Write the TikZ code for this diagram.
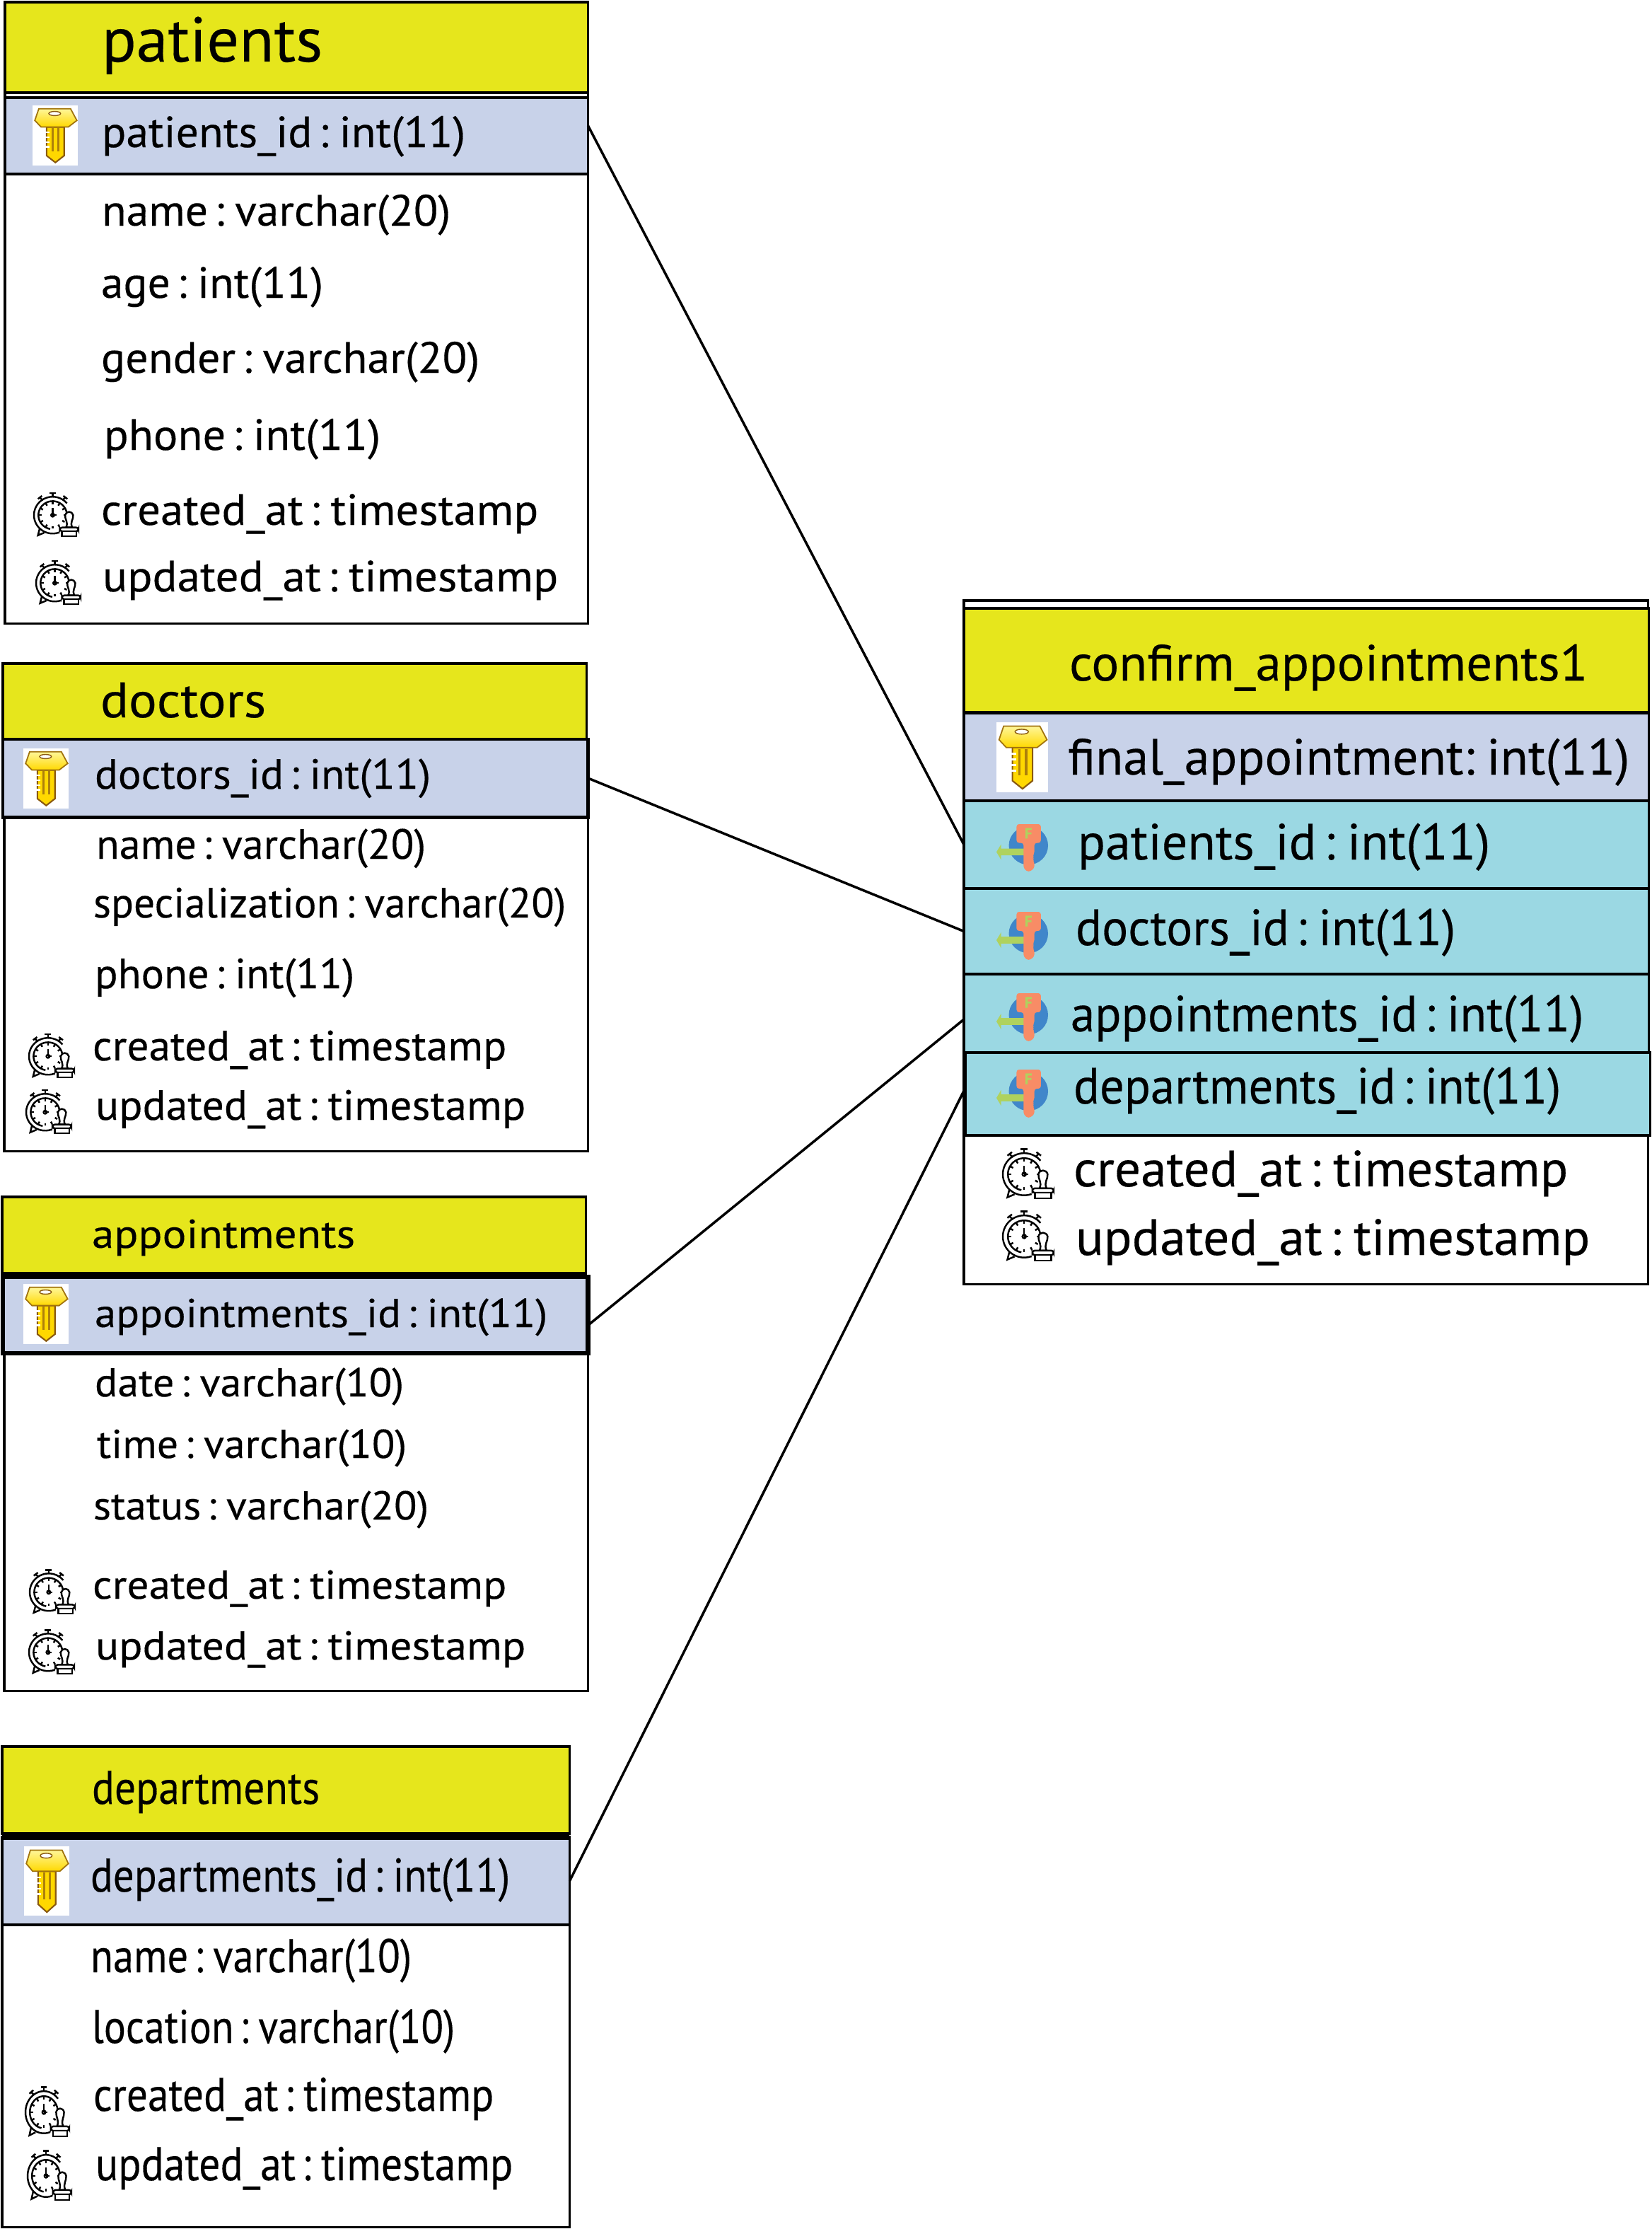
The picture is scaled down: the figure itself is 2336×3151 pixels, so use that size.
\documentclass[tikz,border=0pt]{standalone}
\usepackage{fontspec}
\usepackage{graphicx}
\usepackage{xcolor}
\usepackage{tikz}
\usetikzlibrary{positioning,shapes}
\setmainfont[WordSpace=0.55, FakeBold=0.25]{PT Sans}

\definecolor{headyellow}{HTML}{E6E61C}
\definecolor{pkblue}{HTML}{C8D2E9}
\definecolor{fkcyan}{HTML}{9BD8E3}
\definecolor{keygold}{HTML}{FFD800}
\definecolor{keylight}{HTML}{FFF79A}
\definecolor{keybrown}{HTML}{8A5A10}
\definecolor{fkorange}{HTML}{F88C66}
\definecolor{fkball}{HTML}{4086CA}
\definecolor{fkgreen}{HTML}{AFD25E}

% squeeze a label to the width (in picture units) it has in the drawing
\newlength{\fitlen}
\newcommand{\fitrow}[2]{%
    \settowidth{\fitlen}{#2}%
    \pgfmathsetmacro{\fitratio}{(#1+6)*0.284528/\fitlen}%
    \scalebox{\fitratio}[1]{#2}%
}

% primary key icon: x, y, width, height
\newcommand{\keyicon}[4]{%
\begin{scope}[shift={(#1,#2)}, x=#3*0.01cm, y=-#4*0.01cm]
    \fill[white] (0,0) rectangle (1,1);
    \draw[keybrown, line width=.6pt, fill=keygold]
        (.31,.36) -- (.31,.835) -- (.505,.95) -- (.70,.835) -- (.70,.36) -- cycle;
    \fill[keybrown!70!keygold] (.42,.38) rectangle (.60,.76);
    \fill[keygold] (.47,.38) rectangle (.55,.80);
    \draw[keybrown!80!keygold, line width=.5pt, top color=keylight, bottom color=keygold]
        (.14,.055) -- (.84,.055) -- (.98,.25) -- (.79,.36) -- (.19,.36) -- (.05,.25) -- cycle;
    \draw[keybrown, line width=.4pt, fill=white] (.49,.135) ellipse [x radius=.13, y radius=.035];
    \foreach \j in {.45,.53,.61,.69} {
        \draw[white, line width=.7pt] (.28,\j) -- (.38,\j);
    }
\end{scope}
}

% foreign key icon: name, x, y, width, height
\newcommand{\fkicon}[5]{%
\begin{scope}[shift={(#2,#3)}, x=#4*0.01cm, y=-#5*0.01cm]
    \fill[fkball] (.62,.445) ellipse [x radius=.38, y radius=.40];
    \fill[fkgreen] (.55,.51) -- (.09,.51) -- (.09,.42) -- (0,.58) -- (.09,.74) -- (.09,.65) -- (.55,.65) -- cycle;
    \fill[fkorange, rounded corners=1pt] (.39,0) -- (.86,0) -- (.86,.39) -- (.735,.39) -- (.735,.62)
        -- (.69,.66) -- (.735,.70) -- (.69,.74) -- (.735,.78) -- (.735,.92) -- (.62,1) -- (.525,.92) -- (.525,.39) -- (.39,.39) -- cycle;
    \node (#1) [text=fkgreen, inner sep=0pt, font=\bfseries\fontsize{6}{6}\selectfont] at (.62,.19) {F};
\end{scope}
}

% clock with stamp icon: x, y, width, height
\newcommand{\clockicon}[4]{%
\begin{scope}[shift={(#1,#2)}, x=#3*0.01cm, y=-#4*0.01cm, line width=.7pt]
    \draw plot[domain=-40:-290, samples=30] ({.42+.42*cos(\x)}, {.52+.42*sin(\x)});
    \draw plot[domain=-10:-260, samples=30] ({.42+.32*cos(\x)}, {.52+.32*sin(\x)});
    \foreach \i in {0,30,...,330} {
        \draw ({.42+.25*cos(\i)}, {.52+.25*sin(\i)}) -- ({.42+.31*cos(\i)}, {.52+.31*sin(\i)});
    }
    \draw (.42,.52) -- (.42,.35) (.42,.52) -- (.50,.52);
    \draw (.42,.52) circle [radius=.035];
    \draw (.42,.02) -- (.42,.10) (.35,.02) -- (.49,.02);
    \draw (.13,.12) -- (.20,.18) (.09,.15) -- (.18,.08);
    \draw (.70,.12) -- (.64,.18) (.75,.15) -- (.66,.08);
    \draw (.13,.82) -- (.09,.98) -- (.23,.92);
    \draw[fill=white] (.72,.80) .. controls (.78,.68) and (.69,.62) .. (.70,.52)
        .. controls (.72,.42) and (.86,.42) .. (.88,.52) .. controls (.89,.62) and (.80,.68) .. (.86,.80) -- cycle;
    \draw[fill=white, rounded corners=1pt] (.58,.80) rectangle (1,.89);
    \draw[fill=white] (.63,.89) rectangle (.95,1);
\end{scope}
}

\tikzset{
    tablebody/.style={draw, fill=white, line width=1pt, anchor=north west, inner sep=0pt, outer sep=0pt},
    headrow/.style={tablebody, fill=headyellow},
    pkrow/.style={tablebody, fill=pkblue},
    fkrow/.style={tablebody, fill=fkcyan},
    field/.style={anchor=base west, inner sep=0pt, outer sep=0pt, xshift=-0.03cm},
    relation/.style={draw, line width=1pt}
}

\begin{document}
\begin{tikzpicture}[x=0.01cm, y=-0.01cm]
\useasboundingbox (0,0) rectangle (2336,3151);

% TABLE: patients
\node (patientsbody) [tablebody, minimum width=8.24cm, minimum height=8.78cm] at (7,3) {};
\node (patientshead) [headrow, minimum width=8.24cm, minimum height=1.28cm] at (7,3) {};
\node (patientsid) [pkrow, minimum width=8.24cm, minimum height=1.08cm] at (7,138) {};
\keyicon{46}{149}{64}{85}
\foreach \xx/\yy in {48/696, 51/792} {
    \clockicon{\xx}{\yy}{63}{62}
}
\begin{scope}[font=\fontsize{17.6}{20}\selectfont]
    \node (patientstitle) [field, font=\fontsize{25.5}{28}\selectfont] at (147,87) {\fitrow{306}{patients}};
    \foreach \nm/\xx/\yy/\len/\txt in {
        key/147/208/508/patients\_id : int(11),
        name/147/319/487/name : varchar(20),
        age/146/421/308/age : int(11),
        gender/146/527/529/gender : varchar(20),
        phone/150/636/385/phone : int(11),
        created/146/742/612/created\_at : timestamp,
        updated/148/836/638/updated\_at : timestamp} {
        \node (patients\nm) [field] at (\xx,\yy) {\fitrow{\len}{\txt}};
    }
\end{scope}

% TABLE: doctors
\node (doctorsbody) [tablebody, minimum width=8.25cm, minimum height=5.82cm] at (6,1045) {};
\node (doctorshead) [headrow, minimum width=8.25cm, minimum height=1.07cm] at (4,938) {};
\node (doctorsid) [pkrow, line width=1.4pt, minimum width=8.27cm, minimum height=1.10cm] at (4,1045) {};
\keyicon{33}{1058}{64}{85}
\foreach \xx/\yy in {41/1461, 37/1540} {
    \clockicon{\xx}{\yy}{64}{62}
}
\begin{scope}[font=\fontsize{17}{20}\selectfont]
    \node (doctorstitle) [field, font=\fontsize{20}{22}\selectfont] at (145,1014) {\fitrow{228}{doctors}};
    \foreach \nm/\xx/\yy/\len/\txt in {
        key/137/1115/469/doctors\_id : int(11),
        name/139/1214/460/name : varchar(20),
        spec/135/1297/662/specialization : varchar(20),
        phone/137/1397/361/phone : int(11),
        created/134/1499/579/created\_at : timestamp,
        updated/138/1583/602/updated\_at : timestamp} {
        \node (doctors\nm) [field] at (\xx,\yy) {\fitrow{\len}{\txt}};
    }
\end{scope}

% TABLE: appointments
\node (appointmentsbody) [tablebody, minimum width=8.25cm, minimum height=5.85cm] at (6,1805) {};
\node (appointmentshead) [headrow, minimum width=8.25cm, minimum height=1.08cm] at (3,1692) {};
\node (appointmentsid) [pkrow, line width=1.8pt, minimum width=8.27cm, minimum height=1.08cm] at (4,1805) {};
\keyicon{33}{1815}{64}{85}
\foreach \xx/\yy in {42/2218, 41/2303} {
    \clockicon{\xx}{\yy}{64}{63}
}
\begin{scope}[font=\fontsize{16.2}{20}\selectfont]
    \node (appointmentstitle) [field] at (133,1764) {\fitrow{366}{appointments}};
    \foreach \nm/\xx/\yy/\len/\txt in {
        key/137/1876/634/appointments\_id : int(11),
        date/137/1974/431/date : varchar(10),
        time/140/2061/432/time : varchar(10),
        status/135/2148/468/status : varchar(20),
        created/134/2260/579/created\_at : timestamp,
        updated/138/2346/602/updated\_at : timestamp} {
        \node (appointments\nm) [field] at (\xx,\yy) {\fitrow{\len}{\txt}};
    }
\end{scope}

% TABLE: departments
\node (departmentsbody) [tablebody, minimum width=8.02cm, minimum height=5.50cm] at (3,2598) {};
\node (departmentshead) [headrow, minimum width=8.02cm, minimum height=1.23cm] at (3,2469) {};
\node (departmentsid) [pkrow, minimum width=8.02cm, minimum height=1.24cm] at (3,2597) {};
\draw[line width=2pt] (departmentsid.north west) -- (departmentsid.north east);
\keyicon{34}{2610}{64}{98}
\foreach \xx/\yy in {36/2949, 39/3039} {
    \clockicon{\xx}{\yy}{62}{71}
}
\begin{scope}[font=\fontsize{19}{22}\selectfont]
    \node (departmentstitle) [field] at (133,2550) {\fitrow{316}{departments}};
    \foreach \nm/\xx/\yy/\len/\txt in {
        key/131/2674/587/departments\_id : int(11),
        name/131/2788/448/name : varchar(10),
        location/133/2888/507/location : varchar(10),
        created/135/2984/560/created\_at : timestamp,
        updated/138/3082/584/updated\_at : timestamp} {
        \node (departments\nm) [field] at (\xx,\yy) {\fitrow{\len}{\txt}};
    }
\end{scope}

% TABLE: confirm_appointments1
\node (confirmbody) [tablebody, minimum width=9.67cm, minimum height=9.66cm] at (1363,849) {};
\node (confirmhead) [headrow, minimum width=9.68cm, minimum height=1.47cm] at (1363,860) {};
\node (confirmid) [pkrow, minimum width=9.68cm, minimum height=1.24cm] at (1363,1008) {};
\node (fkpatients) [fkrow, minimum width=9.68cm, minimum height=1.24cm] at (1363,1132) {};
\node (fkdoctors) [fkrow, minimum width=9.68cm, minimum height=1.21cm] at (1363,1256) {};
\node (fkappointments) [fkrow, minimum width=9.68cm, minimum height=1.11cm] at (1363,1377) {};
\node (fkdepartments) [fkrow, minimum width=9.68cm, minimum height=1.17cm] at (1365,1488) {};
\keyicon{1409}{1021}{73}{99}
\fkicon{fpatients}{1409}{1165}{73}{68}
\fkicon{fdoctors}{1409}{1289}{73}{69}
\fkicon{fappointments}{1409}{1404}{73}{69}
\fkicon{fdepartments}{1409}{1512}{73}{69}
\foreach \xx/\yy in {1418/1623, 1418/1711} {
    \clockicon{\xx}{\yy}{72}{71}
}
\begin{scope}[font=\fontsize{20.5}{24}\selectfont]
    \foreach \nm/\xx/\yy/\len/\txt in {
        title/1515/962/727/confirm\_appointments1,
        key/1513/1095/788/final\_appointment: int(11),
        patients/1527/1215/577/patients\_id : int(11),
        doctors/1524/1336/531/doctors\_id : int(11),
        appointments/1517/1458/719/appointments\_id : int(11),
        departments/1521/1560/683/departments\_id : int(11),
        created/1521/1677/693/created\_at : timestamp,
        updated/1524/1774/721/updated\_at : timestamp} {
        \node (confirm\nm) [field] at (\xx,\yy) {\fitrow{\len}{\txt}};
    }
\end{scope}

% Relations between the tables
\draw[relation] (patientsid.2.8) -- (fkpatients.west);
\draw[relation] (doctorsid.east) -- (fkdoctors.west);
\draw[relation] (appointmentsid.-2.5) -- (fkappointments.181);
\draw[relation] (departmentsid.east) -- (fkdepartments.179);

\end{tikzpicture}
\end{document}
